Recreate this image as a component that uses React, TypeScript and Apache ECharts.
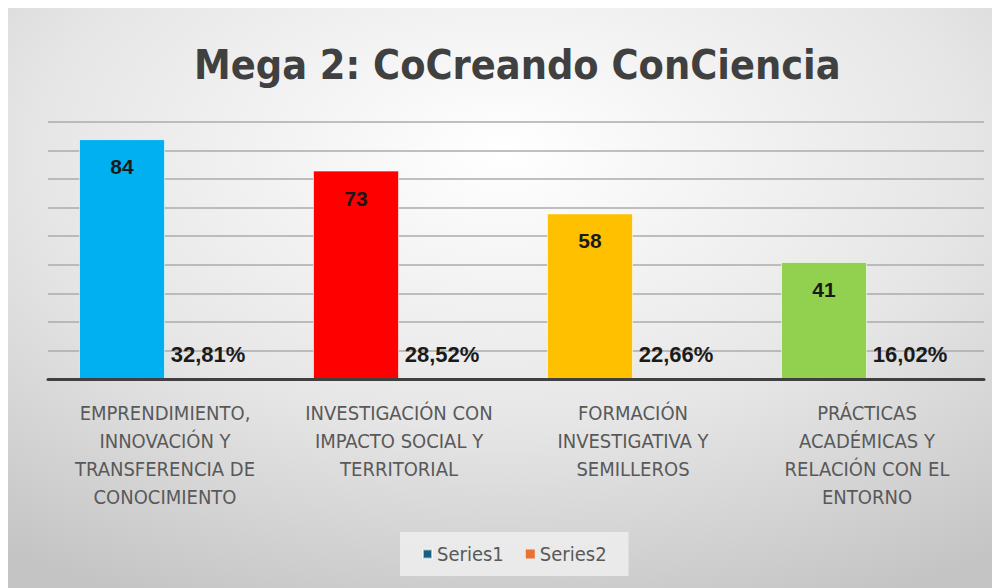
import React, { useEffect, useRef } from "react";
import * as echarts from "echarts";

const categories = [
  "EMPRENDIMIENTO,\nINNOVACIÓN Y\nTRANSFERENCIA DE\nCONOCIMIENTO",
  "INVESTIGACIÓN CON\nIMPACTO SOCIAL Y\nTERRITORIAL",
  "FORMACIÓN\nINVESTIGATIVA Y\nSEMILLEROS",
  "PRÁCTICAS\nACADÉMICAS Y\nRELACIÓN CON EL\nENTORNO",
];
const series1 = [84, 73, 58, 41];
const series2 = [0.3281, 0.2852, 0.2266, 0.1602];
const barColors = ["#00B0F0", "#FF0000", "#FFC000", "#92D050"];
const titleText = "Mega 2: CoCreando ConCiencia";

const NARROW = "'DejaVu Sans Condensed', 'Liberation Sans Narrow', sans-serif";

export default function App() {
  const ref = useRef<HTMLDivElement>(null);
  useEffect(() => {
    if (!ref.current) return;
    const chart = echarts.init(ref.current, null, { renderer: "svg" });
    chart.setOption({
      animation: false,
      backgroundColor: new echarts.graphic.RadialGradient(0.5, 0.25, 0.85, [
        { offset: 0, color: "#ffffff" },
        { offset: 0.55, color: "#e6e6e6" },
        { offset: 1, color: "#c4c4c4" },
      ]),
      title: {
        text: titleText,
        left: 181,
        top: 31,
        textStyle: {
          fontFamily: NARROW,
          fontSize: 41,
          fontWeight: "bold",
          color: "#404040",
        },
      },
      legend: {
        data: ["Series1", "Series2"],
        bottom: 12,
        left: 392,
        icon: "rect",
        itemWidth: 9,
        itemHeight: 9,
        itemGap: 22,
        padding: [12, 22],
        backgroundColor: "rgba(240,240,240,0.8)",
        textStyle: { fontFamily: NARROW, fontSize: 20, color: "#595959" },
      },
      grid: { left: 40, right: 16, top: 114, bottom: 209, containLabel: false },
      xAxis: {
        type: "category",
        data: categories,
        z: 10,
        axisLine: { lineStyle: { color: "#404040", width: 3 } },
        axisTick: { show: false },
        axisLabel: {
          margin: 20,
          fontFamily: NARROW,
          fontSize: 20,
          lineHeight: 28,
          color: "#595959",
          interval: 0,
        },
      },
      yAxis: {
        type: "value",
        min: 0,
        max: 90,
        interval: 10,
        axisLabel: { show: false },
        axisLine: { show: false },
        axisTick: { show: false },
        splitLine: { lineStyle: { color: "#ababab", width: 1.5 } },
      },
      series: [
        {
          name: "Series1",
          type: "bar",
          data: series1.map((v, i) => ({ value: v, itemStyle: { color: barColors[i] } })),
          itemStyle: { color: "#156082", borderColor: "rgba(255,255,255,0.6)", borderWidth: 1 },
          barWidth: 86,
          barGap: "0%",
          label: {
            show: true,
            position: "insideTop",
            distance: 17,
            fontFamily: "'Liberation Sans', Arial, sans-serif",
            fontSize: 21,
            fontWeight: "bold",
            color: "#1a1a1a",
          },
        },
        {
          name: "Series2",
          type: "bar",
          data: series2,
          itemStyle: { color: "#E97132" },
          barWidth: 86,
          label: {
            show: true,
            position: "top",
            distance: 13,
            fontFamily: "'Liberation Sans', Arial, sans-serif",
            fontSize: 22,
            fontWeight: "bold",
            color: "#1a1a1a",
            formatter: (p: any) => (p.value * 100).toFixed(2).replace(".", ",") + "%",
          },
        },
      ],
    });
    return () => chart.dispose();
  }, []);
  return <div ref={ref} style={{ width: 992, height: 580 }} />;
}
